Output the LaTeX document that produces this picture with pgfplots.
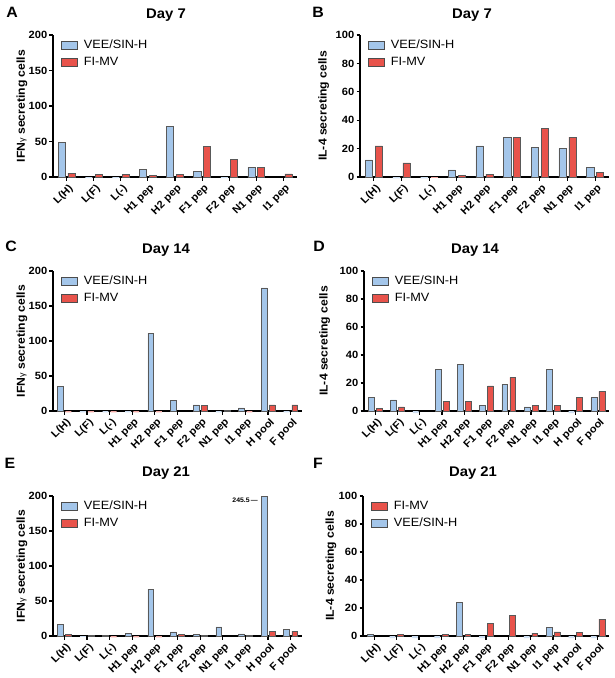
\documentclass[border=0pt]{standalone}
\usepackage{pgfplots}
\pgfplotsset{compat=1.18}
\usepackage{fontspec}
\setmainfont{Liberation Sans}[FakeStretch=1.06]
\definecolor{vblue}{HTML}{A4C6EA}
\definecolor{vred}{HTML}{E8534B}
\definecolor{vbluefaint}{HTML}{CFE0F3}
\definecolor{vredfaint}{HTML}{F2A9A5}

\pgfplotsset{
 panel/.style={
  scale only axis,
  axis lines=left,
  axis line style={-, line width=1.2pt},
  ymin=0,
  clip=false,
  tick align=outside,
  major tick length=3.5pt,
  every tick/.style={black, line width=1.2pt},
  ticklabel style={font=\bfseries\fontsize{10.5}{11}\selectfont},
  /pgf/number format/assume math mode=true,
  xticklabel style={rotate=45, anchor=north east, inner sep=1pt, yshift=-2pt},
  yticklabel style={inner sep=2pt},
  legend style={at={(0,1)}, anchor=north west, xshift=5pt, yshift=-1pt, draw=none, fill=none,
    font=\fontsize{12}{13}\selectfont, row sep=3pt, cells={anchor=west},
    /tikz/every odd column/.append style={column sep=4pt}},
  legend cell align=left,
  every axis y label/.style={rotate=90, anchor=center, font=\bfseries\fontsize{11.5}{12}\selectfont},
 },
 cat9/.style={xmin=-0.5, xmax=8.5, xtick={0,...,8},
  xticklabels={L(H),L(F),L(-),H1 pep,H2 pep,F1 pep,F2 pep,N1 pep,I1 pep}},
 cat11/.style={xmin=-0.5, xmax=10.5, xtick={0,...,10},
  xticklabels={L(H),L(F),L(-),H1 pep,H2 pep,F1 pep,F2 pep,N1 pep,I1 pep,H pool,F pool}},
 ifn/.style={ymax=200, ytick={0,50,100,150,200}, ylabel={IFN{\mdseries\fontsize{8.5}{9}\selectfont γ} secreting cells}},
 il/.style={ymax=100, ytick={0,20,40,60,80,100}, ylabel={IL-4 secreting cells}},
 vbar/.style={ybar, bar width=0.26, bar shift=-0.18, fill=vblue, draw=black!65, line width=0.5pt,
  legend image code/.code={\draw[fill=vblue, draw=black!70, line width=0.6pt] (0pt,-4pt) rectangle (16pt,4pt);}},
 rbar/.style={ybar, bar width=0.26, bar shift=0.18, fill=vred, draw=black!65, line width=0.5pt,
  legend image code/.code={\draw[fill=vred, draw=black!70, line width=0.6pt] (0pt,-4pt) rectangle (16pt,4pt);}},
 vneg/.style={ybar, bar width=0.26, bar shift=-0.18, fill=vbluefaint, draw=none, forget plot},
 rneg/.style={ybar, bar width=0.26, bar shift=0.18, fill=vredfaint, draw=none, forget plot},
}

\begin{document}
\begin{tikzpicture}
\useasboundingbox (0,0) rectangle (614pt,-678pt);

% ---------- A ----------
\begin{axis}[panel, cat9, ifn, at={(53pt,-35pt)}, anchor=north west, width=244pt, height=142pt,
  ylabel style={at={(axis description cs:-0.127,0.5)}}]
\addplot[vbar] coordinates {(0,48.5) (3,10.4) (4,71.5) (5,8) (7,13.5)};
\addplot[rbar] coordinates {(0,5.5) (1,4.2) (2,3.3) (3,2.2) (4,4.2) (5,43.3) (6,24.5) (7,13.5) (8,4.5)};
\addplot[vneg] coordinates {(1,-1.5) (2,-1.5) (6,-1.5)};
\legend{VEE/SIN-H, FI-MV}
\end{axis}

% ---------- B ----------
\begin{axis}[panel, cat9, il, at={(360pt,-35pt)}, anchor=north west, width=249pt, height=142pt,
  ylabel style={at={(axis description cs:-0.146,0.5)}}]
\addplot[vbar] coordinates {(0,12) (3,5) (4,22) (5,28) (6,21) (7,20) (8,6.6)};
\addplot[rbar] coordinates {(0,22) (1,10) (3,1) (4,2) (5,28) (6,34) (7,28) (8,3.5)};
\addplot[vneg] coordinates {(1,-1) (2,-1)};
\addplot[rneg] coordinates {(2,-1)};
\legend{VEE/SIN-H, FI-MV}
\end{axis}

% ---------- C ----------
\begin{axis}[panel, cat11, ifn, at={(53pt,-271pt)}, anchor=north west, width=249pt, height=140pt,
  ylabel style={at={(axis description cs:-0.125,0.5)}}]
\addplot[vbar] coordinates {(0,35.7) (4,111) (5,15.7) (6,8.6) (8,4.3) (9,176)};
\addplot[rbar] coordinates {(6,7.6) (7,0.6) (9,8.6) (10,8.6)};
\addplot[vneg] coordinates {(1,-2) (2,-2) (3,-2) (7,-2) (10,-2)};
\addplot[rneg] coordinates {(0,-2) (1,-2) (2,-2) (3,-2) (4,-2) (8,-2)};
\legend{VEE/SIN-H, FI-MV}
\end{axis}

% ---------- D ----------
\begin{axis}[panel, cat11, il, at={(364pt,-271pt)}, anchor=north west, width=245pt, height=140pt,
  ylabel style={at={(axis description cs:-0.16,0.5)}}]
\addplot[vbar] coordinates {(0,10) (1,8) (3,30) (4,33.3) (5,4) (6,19) (7,3) (8,30) (10,9.5)};
\addplot[rbar] coordinates {(0,2) (1,3) (3,7) (4,7) (5,18) (6,24) (7,4) (8,4) (9,9.5) (10,14)};
\addplot[vneg] coordinates {(2,-1.5) (9,-1.5)};
\legend{VEE/SIN-H, FI-MV}
\end{axis}

% ---------- E ----------
\begin{axis}[panel, cat11, ifn, at={(53pt,-496pt)}, anchor=north west, width=249pt, height=140pt,
  restrict y to domain*=-10:200,
  ylabel style={at={(axis description cs:-0.125,0.5)}}]
\addplot[vbar] coordinates {(0,16.6) (2,0.5) (3,3.8) (4,67) (5,6) (6,2) (7,13) (8,3) (9,245.5) (10,9.5)};
\addplot[rbar] coordinates {(0,2.4) (1,0.5) (5,2) (6,0.5) (8,0.5) (9,7) (10,7)};
\addplot[vneg] coordinates {(1,-2)};
\addplot[rneg] coordinates {(2,-2) (3,-2) (4,-2)};
\legend{VEE/SIN-H, FI-MV}
\node[anchor=east, inner sep=0pt, font=\bfseries\fontsize{6.5}{7}\selectfont] at (axis cs:8.55,194) {245.5\,—};
\end{axis}

% ---------- F ----------
\begin{axis}[panel, cat11, il, at={(363pt,-496pt)}, anchor=north west, width=246pt, height=140pt,
  ylabel style={at={(axis description cs:-0.13,0.5)}}]
\addplot[rbar] coordinates {(1,1) (3,1) (4,1) (5,9) (6,15) (7,2) (8,3) (9,2.6) (10,12)};
\addplot[vbar] coordinates {(0,1) (4,24) (8,6.2)};
\addplot[vneg] coordinates {(1,-1.5) (2,-1.5) (3,-1.5) (5,-1.5) (7,-1.5) (9,-1.5) (10,-1.5)};
\legend{FI-MV, VEE/SIN-H}
\end{axis}

% ---------- titles and panel letters ----------
\begin{scope}[every node/.style={font=\bfseries\fontsize{14}{15}\selectfont}]
\node at (166pt,-15pt) {Day 7};
\node at (472pt,-15pt) {Day 7};
\node at (166pt,-250pt) {Day 14};
\node at (475pt,-250pt) {Day 14};
\node at (166pt,-473pt) {Day 21};
\node at (473pt,-473pt) {Day 21};
\end{scope}
\begin{scope}[every node/.style={font=\bfseries\fontsize{15}{16}\selectfont}]
\node at (12pt,-12pt) {A};
\node at (318pt,-12pt) {B};
\node at (11pt,-246pt) {C};
\node at (319pt,-246pt) {D};
\node at (10pt,-463pt) {E};
\node at (318pt,-463pt) {F};
\end{scope}
\end{tikzpicture}
\end{document}
